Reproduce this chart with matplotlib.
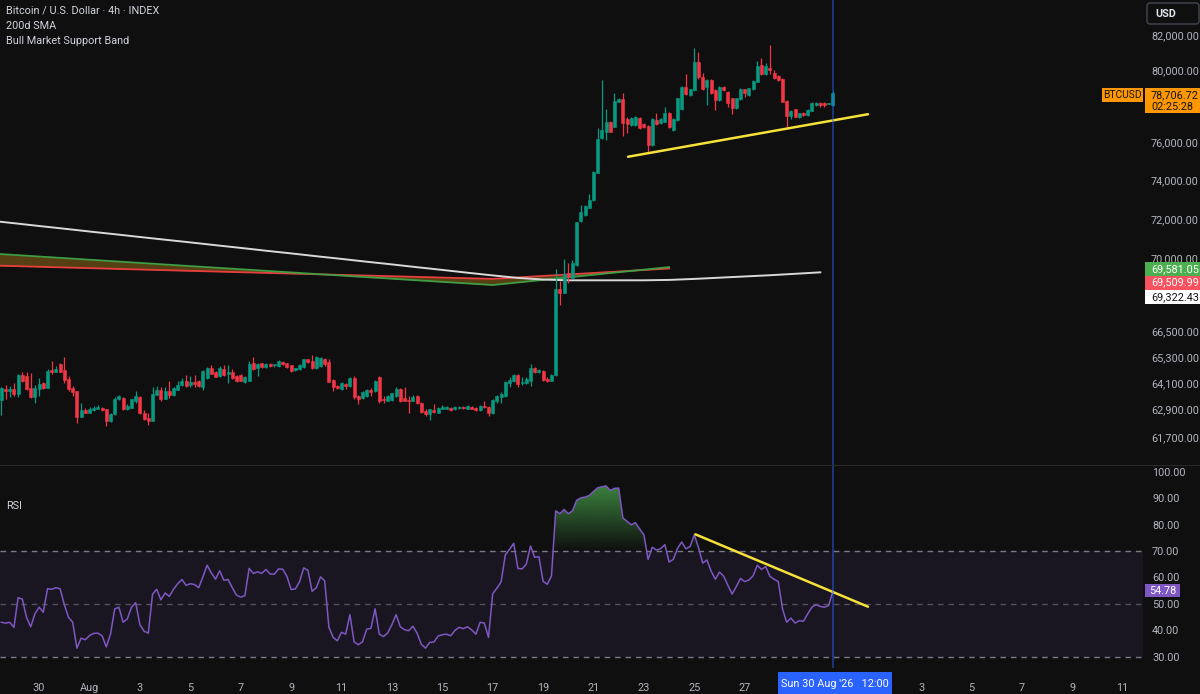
import numpy as np
import pandas as pd
import matplotlib
matplotlib.use("Agg")
import matplotlib.pyplot as plt
import matplotlib.dates as mdates
from matplotlib.path import Path
from matplotlib.patches import PathPatch, Rectangle, FancyBboxPatch
from matplotlib.transforms import IdentityTransform
from matplotlib.ticker import FixedLocator, FuncFormatter, NullLocator

plt.rcParams['font.family'] = ['Roboto', 'DejaVu Sans']

# ---------------- data ----------------
candle_start = '2026-07-28 12:00'   # 4h candles
open_ = [63340, 63830, 63750, 63830, 63600, 64460, 64400, 63860, 63450, 63830,
         64080, 63870, 64700, 64610, 64985, 64700, 64280, 63885, 63720, 62570,
         62890, 62770, 62890, 62950, 62995, 62920, 62390, 62700, 63370, 63420,
         62920, 62995, 63300, 63490, 62740, 62510, 62420, 63570, 63800, 63400,
         63720, 63570, 63800, 64020, 64170, 64005, 64125, 64200, 63900, 64310,
         64800, 64620, 64400, 64760, 64520, 64580, 64400, 64460, 64130, 64200,
         65000, 64800, 65000, 64820, 64985, 64900, 64880, 65060, 65000, 64910,
         64680, 64730, 64835, 65180, 65105, 64775, 64880, 65180, 65075, 64250,
         63975, 63830, 64050, 63945, 64320, 63520, 63420, 63520, 63795, 63720,
         64380, 63400, 63300, 63340, 63520, 63820, 63420, 63340, 63300, 63520,
         63220, 62840, 62690, 62870, 62770, 62950, 62950, 62990, 62920, 62990,
         63040, 62950, 63040, 62990, 62890, 63070, 63040, 62740, 63300, 63450,
         63520, 64095, 64170, 64470, 64095, 64095, 64200, 64800, 64580, 64650,
         64275, 64200, 64460, 68500, 68330, 69270, 69030, 69680, 71880, 72170,
         72570, 72950, 74390, 76220, 76580, 77090, 76850, 78220, 78350, 77250,
         76940, 76940, 77300, 76980, 76890, 75860, 77210, 77030, 77120, 77610,
         76670, 77210, 77800, 79020, 78590, 78870, 80450, 79600, 79020, 79430,
         78870, 78310, 79020, 78780, 78410, 77860, 78350, 78900, 78590, 78920,
         79340, 80300, 79770, 80100, 79830, 79650, 79500, 78280, 77430, 77800,
         77400, 77610, 77490, 77720, 78040, 78170, 78170, 78100, 78040]
high = [63930, 64010, 63980, 64100, 64500, 64620, 64620, 64550, 64020, 64310,
        64130, 64760, 65090, 64880, 65030, 65300, 64400, 63945, 63750, 63220,
        62995, 63025, 63070, 63100, 63025, 62950, 62770, 63490, 63580, 63450,
        63150, 63400, 63720, 63520, 62875, 62770, 63900, 63975, 63900, 63900,
        64170, 63900, 64170, 64310, 64460, 64430, 64460, 64250, 64700, 64850,
        64925, 64650, 64880, 64910, 64910, 64730, 64460, 64500, 64430, 65105,
        65300, 65000, 65030, 65030, 65000, 64985, 65150, 65105, 65030, 64940,
        64800, 64955, 65210, 65210, 65405, 65330, 65300, 65255, 65180, 64280,
        64005, 64125, 64080, 64350, 64430, 63550, 63720, 63830, 63855, 64250,
        64430, 63520, 63570, 63670, 63900, 63870, 63900, 63520, 63550, 63570,
        63250, 62920, 62950, 63140, 63010, 63100, 63050, 63040, 63070, 63085,
        63085, 63100, 63070, 63025, 63100, 63300, 63070, 63400, 63570, 63700,
        64170, 64350, 64530, 64500, 64350, 64350, 64950, 64850, 64730, 64700,
        64350, 64500, 69500, 68880, 69960, 69800, 69930, 71850, 72700, 72700,
        73270, 74450, 76760, 79430, 77800, 77150, 78690, 78400, 78720, 77400,
        77350, 77450, 77350, 77030, 76940, 77300, 77610, 77300, 77950, 77650,
        77300, 78450, 79080, 79770, 78950, 81250, 81000, 79800, 79500, 79500,
        78920, 79080, 79080, 78820, 78450, 78450, 78970, 78950, 79000, 79420,
        80500, 80700, 80400, 81420, 80000, 79700, 79550, 78320, 77760, 77840,
        77620, 77650, 77800, 78210, 78210, 78210, 78210, 78170, 78830]
low = [62650, 63400, 63450, 63520, 63490, 64160, 63800, 63420, 63190, 63520,
       63830, 63860, 64520, 64580, 64590, 64110, 63750, 63520, 62320, 62560,
       62740, 62740, 62860, 62920, 62845, 62170, 62360, 62680, 63340, 62890,
       62890, 62965, 63220, 62695, 62440, 62210, 62380, 63550, 63300, 63370,
       63420, 63520, 63765, 63980, 63900, 63900, 63900, 63900, 63800, 64280,
       64500, 64350, 64380, 64430, 64100, 64280, 64130, 64170, 64100, 64170,
       64700, 64430, 64790, 64790, 64850, 64850, 64850, 64925, 64800, 64620,
       64650, 64700, 64800, 65030, 64760, 64745, 64850, 64880, 64130, 63750,
       63830, 63800, 63830, 63915, 63370, 63150, 63400, 63490, 63520, 63705,
       63220, 63220, 63270, 63300, 63490, 63250, 63270, 62770, 63280, 63140,
       62770, 62620, 62440, 62770, 62740, 62920, 62920, 62830, 62890, 62950,
       62950, 62920, 62920, 62860, 62860, 62990, 62620, 62690, 63220, 63220,
       63490, 63940, 64140, 63940, 64000, 64050, 63970, 64550, 64550, 64200,
       64125, 64170, 64400, 67740, 68300, 68810, 69000, 69650, 71850, 72140,
       72540, 72900, 74350, 76180, 76130, 76550, 76820, 78180, 76340, 76490,
       76900, 76900, 76710, 76800, 75500, 75830, 76950, 76980, 77080, 76780,
       76600, 77170, 77760, 78600, 78550, 78820, 79500, 78880, 78040, 78650,
       77760, 78280, 78820, 77950, 77530, 77820, 78300, 78500, 78550, 78880,
       79300, 79700, 79700, 79750, 79480, 79400, 78180, 76810, 77250, 77360,
       77300, 77450, 77450, 77680, 78000, 77950, 77950, 78080, 78000]
close = [63860, 63750, 63830, 63600, 64470, 64200, 63830, 63450, 63870, 64050,
         63860, 64650, 64580, 64730, 64620, 64250, 63830, 63700, 62570, 62875,
         62770, 62920, 62995, 63040, 62875, 62390, 62725, 63400, 63520, 62920,
         63070, 63370, 63520, 62740, 62470, 62420, 63600, 63800, 63400, 63750,
         63570, 63855, 64020, 64185, 63980, 64125, 64050, 63945, 64650, 64800,
         64530, 64380, 64800, 64460, 64580, 64320, 64170, 64200, 64380, 64955,
         64760, 64955, 64820, 64985, 64880, 64955, 65105, 64955, 64835, 64650,
         64775, 64925, 65180, 65060, 64775, 65300, 65255, 64955, 64160, 63900,
         63855, 64080, 63945, 64310, 63490, 63370, 63675, 63795, 63675, 64200,
         63270, 63340, 63520, 63630, 63850, 63300, 63300, 63300, 63450, 63190,
         62800, 62690, 62920, 62800, 62960, 63010, 63025, 62870, 63025, 63040,
         62990, 63070, 62950, 62890, 63070, 63040, 62770, 63340, 63520, 63600,
         64125, 64245, 64460, 64050, 64155, 64275, 64800, 64580, 64700, 64230,
         64200, 64460, 68500, 68300, 69240, 69110, 69770, 71820, 72360, 72650,
         72980, 74410, 76180, 76670, 77120, 76580, 78280, 78350, 77030, 76980,
         77300, 77400, 76760, 76850, 75860, 77250, 77000, 77250, 77610, 76820,
         77250, 78410, 79020, 78650, 78900, 80450, 79580, 78920, 79430, 78690,
         78310, 79020, 78870, 78170, 77860, 78410, 78920, 78690, 78960, 79370,
         80200, 79770, 80200, 80000, 79520, 79450, 78220, 77430, 77720, 77400,
         77580, 77490, 77760, 78170, 78170, 78040, 78060, 78130, 78706.72]
rsi = [43.0, 42.7, 43.0, 41.1, 52.3, 51.8, 44.9, 41.3, 46.2, 48.7,
       46.8, 55.7, 55.5, 56.1, 55.7, 49.7, 44.9, 43.0, 33.2, 37.0,
       36.4, 38.0, 38.8, 38.9, 37.9, 33.7, 38.5, 48.1, 48.7, 43.0,
       44.3, 48.7, 50.4, 42.1, 39.6, 38.9, 53.6, 55.5, 51.5, 54.1,
       52.8, 55.5, 57.6, 59.2, 57.0, 57.6, 57.3, 56.1, 60.2, 64.6,
       61.7, 59.3, 62.5, 58.9, 59.2, 56.1, 53.3, 52.5, 53.1, 63.4,
       61.5, 62.1, 61.5, 63.0, 61.3, 61.2, 63.2, 63.1, 60.4, 55.4,
       55.6, 58.3, 63.6, 62.7, 54.7, 56.1, 60.2, 58.7, 41.1, 37.3,
       36.0, 39.2, 38.5, 45.9, 35.6, 34.5, 35.6, 40.4, 40.7, 48.1,
       38.5, 37.6, 39.0, 42.1, 45.9, 41.3, 40.2, 39.8, 41.5, 38.9,
       34.7, 33.2, 35.4, 35.5, 37.8, 38.3, 38.5, 37.9, 39.9, 41.1,
       40.6, 41.3, 40.1, 38.5, 43.0, 42.7, 37.3, 53.8, 55.9, 58.3,
       68.5, 70.6, 72.9, 63.4, 63.2, 65.0, 71.9, 67.6, 67.8, 58.5,
       57.4, 60.6, 85.2, 84.1, 85.7, 84.1, 85.2, 89.2, 90.1, 90.4,
       91.0, 92.5, 93.9, 94.3, 94.6, 92.9, 93.7, 93.8, 82.5, 81.2,
       79.9, 80.7, 78.3, 76.1, 66.8, 71.4, 70.3, 70.9, 72.4, 65.8,
       66.8, 71.0, 73.4, 70.8, 71.7, 76.1, 71.3, 65.4, 66.6, 62.4,
       59.3, 62.0, 60.4, 57.0, 53.7, 56.5, 59.6, 58.4, 59.0, 60.6,
       64.6, 63.0, 64.1, 60.4, 59.3, 58.4, 48.1, 43.0, 44.6, 42.7,
       43.6, 43.4, 46.2, 48.7, 49.7, 49.0, 48.7, 49.4, 54.78]

sma_start = '2026-07-28'            # daily 200d SMA
sma200d = [71912, 71775, 71633, 71496, 71354, 71218, 71077, 70941, 70806, 70666,
           70531, 70391, 70257, 70117, 69984, 69845, 69712, 69574, 69441, 69303,
           69171, 69049, 68970, 68932, 68932, 68932, 68932, 68951, 69000, 69060,
           69120, 69180, 69250, 69322.43]

band_dates = ['2026-07-27', '2026-08-03', '2026-08-10', '2026-08-17', '2026-08-24']
band_ema21w = [70341, 69785, 69240, 68703, 69581.05]
band_sma20w = [69697, 69461, 69229, 69000, 69509.99]

price_trend_dates = ['2026-08-22 08:50', '2026-08-31 21:25']
price_trend_values = [75230, 77530]
rsi_trend_dates = ['2026-08-25 01:00', '2026-08-31 21:25']
rsi_trend_values = [76.3, 48.9]

cursor_time = '2026-08-30 12:00'
countdown = '02:25:28'

price_ticks = [82000, 80000, 76000, 74000, 72000, 70000,
               66500, 65300, 64100, 62900, 61700]
rsi_ticks = [100, 90, 80, 70, 60, 50, 40, 30]
x_tick_dates = ['2026-07-30', '2026-08-01', '2026-08-03', '2026-08-05', '2026-08-07',
                '2026-08-09', '2026-08-11', '2026-08-13', '2026-08-15', '2026-08-17',
                '2026-08-19', '2026-08-21', '2026-08-23', '2026-08-25', '2026-08-27',
                '2026-09-03', '2026-09-05', '2026-09-07', '2026-09-09', '2026-09-11']
x_tick_labels = ['30', 'Aug', '3', '5', '7', '9', '11', '13', '15', '17', '19', '21',
                 '23', '25', '27', '3', '5', '7', '9', '11']

# ---------------- style ----------------
BG = '#0f0f0f'
UP = '#089981'
DN = '#f23645'
TXT = '#b2b5be'
W, H = 1200, 694

fig = plt.figure(figsize=(W / 100, H / 100), dpi=100, facecolor=BG)
ax = fig.add_axes([0, 1 - 465 / H, 1143 / W, 465 / H])
axr = fig.add_axes([0, 1 - 668 / H, 1143 / W, (668 - 466) / H], sharex=ax)
for a in (ax, axr):
    a.set_facecolor(BG)
    for s in a.spines.values():
        s.set_visible(False)

# ---------------- price panel ----------------
o = np.array(open_, float); hi = np.array(high, float)
lo = np.array(low, float); c = np.array(close, float)
t = pd.date_range(candle_start, periods=len(c), freq='4h')
xs = mdates.date2num(t)
cols = np.where(c >= o, UP, DN)
ax.vlines(xs, lo, hi, colors=cols, linewidth=0.9, zorder=4)
b_lo = np.minimum(o, c); b_hi = np.maximum(o, c)
ax.bar(xs, b_hi - b_lo, bottom=b_lo, width=0.115, color=cols, edgecolor=cols,
       linewidth=0.4, zorder=5)

bx = mdates.date2num(pd.to_datetime(band_dates))
ax.fill_between(bx, band_ema21w, band_sma20w, color='#563f12', linewidth=0, zorder=2)
ax.plot(bx, band_sma20w, color='#e5403f', lw=1.3, zorder=3)
ax.plot(bx, band_ema21w, color='#3f9d44', lw=1.3, zorder=3)

sx = mdates.date2num(pd.date_range(sma_start, periods=len(sma200d), freq='D'))
ax.plot(sx, sma200d, color='#d9d9d9', lw=1.4, zorder=3)

ax.plot(mdates.date2num(pd.to_datetime(price_trend_dates)), price_trend_values,
        color='#f5e13a', lw=1.8, zorder=6, solid_capstyle='round')

ax.set_yscale('log')
ax.yaxis.tick_right()
ax.yaxis.set_major_locator(FixedLocator(price_ticks))
ax.yaxis.set_minor_locator(NullLocator())
ax.yaxis.set_major_formatter(FuncFormatter(lambda v, p: f'{v:,.2f}'))
ax.tick_params(axis='y', which='both', length=0, pad=5.8, labelsize=7.8,
               labelcolor=TXT, right=True, left=False, labelright=True, labelleft=False)
ax.tick_params(axis='x', length=0, labelbottom=False)

xc = mdates.date2num(pd.Timestamp(cursor_time))
for a in (ax, axr):
    a.axvline(xc, color='#2962ff', alpha=0.5, lw=1.3, zorder=7)

# ---------------- RSI panel ----------------
r = np.array(rsi, float)
axr.axhspan(30, 70, color='#1a1621', zorder=0, lw=0)
for lvl, al in ((70, 1.0), (50, 0.6), (30, 1.0)):
    axr.axhline(lvl, color='#787b86', alpha=al, lw=1, ls=(0, (4, 3.5)), zorder=1)

poly = axr.fill_between(xs, r, 70, where=r >= 70, interpolate=True,
                        facecolor='none', edgecolor='none', linewidth=0)
cp = Path.make_compound_path(*poly.get_paths())
clip = PathPatch(cp, transform=axr.transData, facecolor='none', edgecolor='none')
axr.add_patch(clip)
grad = np.zeros((256, 1, 4))
tt = np.linspace(0, 1, 256)
grad[:, 0, 0] = 76 / 255; grad[:, 0, 1] = 175 / 255; grad[:, 0, 2] = 80 / 255
grad[:, 0, 3] = 0.88 * tt
im = axr.imshow(grad, extent=(xs[0], xs[-1], 70, 100), origin='lower',
                aspect='auto', interpolation='bilinear', zorder=2)
im.set_clip_path(clip)

axr.plot(xs, r, color='#7e57c2', lw=1.1, zorder=3)
axr.plot(mdates.date2num(pd.to_datetime(rsi_trend_dates)), rsi_trend_values,
         color='#f5e13a', lw=1.8, zorder=6, solid_capstyle='round')

axr.yaxis.tick_right()
axr.yaxis.set_major_locator(FixedLocator(rsi_ticks))
axr.yaxis.set_major_formatter(FuncFormatter(lambda v, p: f'{v:.2f}'))
axr.tick_params(axis='y', length=0, pad=6.5, labelsize=7.8, labelcolor=TXT)
axr.set_xticks(mdates.date2num(pd.to_datetime(x_tick_dates)))
axr.set_xticklabels(x_tick_labels)
axr.tick_params(axis='x', length=0, pad=11, labelsize=7.8, labelcolor=TXT)

x_aug1 = mdates.date2num(pd.Timestamp('2026-08-01'))
ax.set_xlim(x_aug1 - 3.552, x_aug1 + 41.806)
ax.set_ylim(60486, 84057)
axr.set_ylim(25.7, 102.16)

# ---------------- overlays (figure pixel coords) ----------------
def box(x0, y0, x1, y1, color, z=5):
    fig.add_artist(Rectangle((x0 / W, 1 - y1 / H), (x1 - x0) / W, (y1 - y0) / H,
                             transform=fig.transFigure, facecolor=color,
                             edgecolor='none', zorder=z))

def txt(x, y, s, **kw):
    kw.setdefault('va', 'center')
    kw.setdefault('fontsize', 7.8)
    fig.text(x / W, 1 - y / H, s, zorder=8, **kw)

box(0, 465, W, 466.3, '#2a2a2a', z=2)

txt(6, 11, 'Bitcoin / U.S. Dollar · 4h · INDEX', color='#d1d4dc', fontsize=7.8)
txt(6, 26, '200d SMA', color='#d1d4dc', fontsize=7.8)
txt(6, 41, 'Bull Market Support Band', color='#d1d4dc', fontsize=7.8)
txt(6, 506, 'RSI', color='#d1d4dc', fontsize=7.8)

fig.add_artist(FancyBboxPatch((1147, H - 24), 52, 21,
                              boxstyle='round,pad=0,rounding_size=3',
                              transform=IdentityTransform(), facecolor=BG,
                              edgecolor='#434651', lw=1, zorder=6))
txt(1155, 14, 'USD', color='#e0e3eb', fontsize=7.8, fontweight='bold')

# last price
box(1102, 88, 1143, 101.5, '#ff9800')
txt(1122.5, 94.8, 'BTCUSD', color='#131313', fontsize=7.4, ha='center')
box(1144.5, 88, W, 113.3, '#ff9800')
txt(1151, 94.8, f'{close[-1]:,.2f}', color='#131313', fontsize=7.8)
txt(1151, 106.5, countdown, color='#131313', fontsize=7.8)

# band / sma last values
box(1144.5, 262.3, W, 275.5, '#4caf50')
txt(1151, 269, f'{band_ema21w[-1]:,.2f}', color='white', fontsize=7.8)
box(1144.5, 275.6, W, 289.5, '#f7525f')
txt(1151, 282.6, f'{band_sma20w[-1]:,.2f}', color='white', fontsize=7.8)
box(1144.5, 289.6, W, 304.3, '#ffffff')
txt(1151, 297, f'{sma200d[-1]:,.2f}', color='#131313', fontsize=7.8)

# rsi last value
box(1144.5, 584.3, 1180, 596.8, '#7e57c2')
txt(1149, 590.6, f'{rsi[-1]:.2f}', color='white', fontsize=7.8)

# cursor date label
box(778, 672, 892, H, '#2962ff', z=6)
txt(835, 684, "Sun 30 Aug '26   12:00", color='white', fontsize=7.8, ha='center')

fig.savefig('out.png', dpi=100, facecolor=BG)
